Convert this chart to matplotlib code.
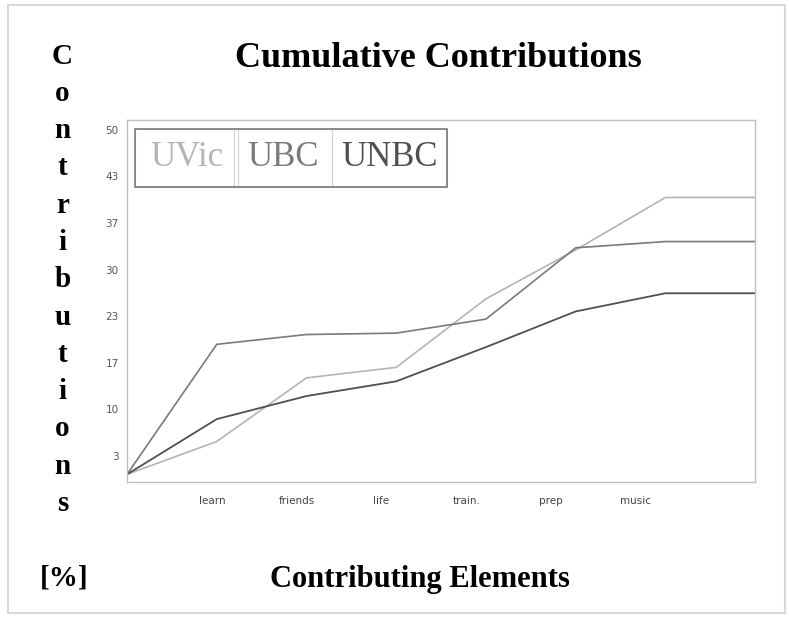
import matplotlib.pyplot as plt
import numpy as np
from matplotlib.patches import Rectangle

# ==========================
# data
# ==========================
elements = ["", "learn", "friends", "life", "train.", "prep", "music", ""]
uvic = [0.7, 5.4, 14.5, 16.0, 25.8, 32.8, 40.3, 40.3]
ubc = [0.7, 19.3, 20.7, 20.9, 22.9, 33.1, 34.0, 34.0]
unbc = [0.7, 8.6, 11.9, 14.0, 18.9, 24.0, 26.6, 26.6]

yticks = [10/3 + 20/3*k for k in range(8)]
ytick_labels = [str(int(round(v))) for v in yticks]

serif = "Liberation Serif"
c_uvic, c_ubc, c_unbc = "#b4b4b4", "#7a7a7a", "#505050"

fig = plt.figure(figsize=(7.89, 6.18), dpi=100)
ax = fig.add_axes([0.161, 0.220, 0.796, 0.586])

x = np.arange(len(elements))
ax.plot(x, uvic, color=c_uvic, lw=1.2)
ax.plot(x, ubc, color=c_ubc, lw=1.2)
ax.plot(x, unbc, color=c_unbc, lw=1.3)

ax.set_xlim(0, 7)
ax.set_ylim(-0.4, 51.4)

ax.set_yticks(yticks)
ax.set_yticklabels(ytick_labels, fontsize=7.5, color="#555555")
ax.set_xticks(x[1:-1] * 0.945)
ax.set_xticklabels(elements[1:-1], fontsize=7.5, color="#444444")
ax.tick_params(axis="y", length=0, pad=6)
ax.tick_params(axis="x", length=0, pad=10)
for s in ax.spines.values():
    s.set_color("#c0c0c0")
    s.set_linewidth(1.0)

# legend: three cells with coloured names
cells = [("UVic", c_uvic, 0.012, 0.165), ("UBC", c_ubc, 0.171, 0.155), ("UNBC", c_unbc, 0.326, 0.183)]
for name, col, x0, w in cells:
    ax.add_patch(Rectangle((x0, 0.815), w, 0.16, transform=ax.transAxes,
                           fill=False, ec="#d0d0d0", lw=0.8))
    ax.text(x0 + w/2, 0.895, name, transform=ax.transAxes, ha="center", va="center",
            family=serif, fontsize=25, color=col)
ax.add_patch(Rectangle((0.012, 0.815), 0.497, 0.16, transform=ax.transAxes,
                       fill=False, ec="#7a7a7a", lw=1.2))

# titles
fig.text(0.556, 0.905, "Cumulative Contributions", ha="center", va="center",
         family=serif, fontweight="bold", fontsize=26)
fig.text(0.532, 0.063, "Contributing Elements", ha="center", va="center",
         family=serif, fontweight="bold", fontsize=22)
fig.text(0.081, 0.065, "[%]", ha="center", va="center",
         family=serif, fontweight="bold", fontsize=21)
for i, ch in enumerate("Contributions"):
    fig.text(0.079, 1 - (56 + i*37.3)/618, ch, ha="center", va="center",
             family=serif, fontweight="bold", fontsize=21)

fig.add_artist(Rectangle((0.010, 0.008), 0.985, 0.984, transform=fig.transFigure,
                         fill=False, ec="#d8d8d8", lw=1.5))

fig.savefig("out.png", dpi=100)
